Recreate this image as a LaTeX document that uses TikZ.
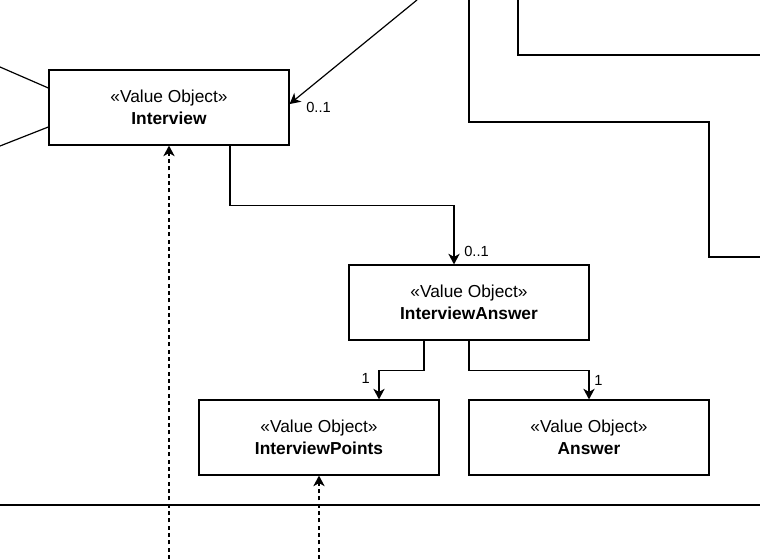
\documentclass[tikz,border=0pt]{standalone}
\usepackage{fontspec}
\setmainfont{Liberation Sans}
\usetikzlibrary{arrows.meta}

\tikzset{vo/.style={draw,line width=0.9pt,minimum width=180pt,minimum height=56.25pt,align=center,inner sep=0pt,font=\fontsize{13}{16.5}\selectfont},
assoc/.style={line width=0.9pt,-{Stealth[length=8pt,width=8.5pt,inset=2.4pt]}},
dep/.style={assoc,dash pattern=on 3pt off 2.5pt},
plain/.style={line width=0.9pt},
mult/.style={font=\fontsize{11}{13}\selectfont,inner sep=0pt}}

\begin{document}
\begin{tikzpicture}[x=0.75pt,y=-0.75pt]
\useasboundingbox (0,0) rectangle (760,559);

%% value objects
\node [vo] (interview) at (169,107.5) {«Value Object»\\\textbf{Interview}};
\node [vo] (ianswer) at (469,302.5) {«Value Object»\\\textbf{InterviewAnswer}};
\node [vo] (ipoints) at (319,437.5) {«Value Object»\\\textbf{InterviewPoints}};
\node [vo] (answer) at (589,437.5) {«Value Object»\\\textbf{Answer}};

%% free ends of connectors
\coordinate (inA) at (0,67);
\coordinate (inB) at (0,146);
\coordinate (inC) at (417,0);
\coordinate (topA) at (518,0);
\coordinate (topA2) at (760,55);
\coordinate (topB) at (469,0);
\coordinate (topB1) at (709,122);
\coordinate (topB2) at (760,257);
\coordinate (sepL) at (0,505);
\coordinate (sepR) at (760,505);
\coordinate (depA) at (169,559);
\coordinate (depB) at (319,559);

%% lines into Interview
\draw [plain] (inA) -- ([yshift=14.6pt]interview.west);
\draw [plain] (inB) -- ([yshift=-14.6pt]interview.west);
\draw [assoc] (inC) -- ([yshift=2.6pt]interview.east);

%% lines on the right
\draw [plain] (topA) |- (topA2);
\draw [plain] (topB) |- (topB1) |- (topB2);

%% associations
\draw [assoc] ([xshift=45.75pt]interview.south) -- ++(0,60) -| ([xshift=-11.25pt]ianswer.north);
\draw [assoc] ([xshift=-33.75pt]ianswer.south) -- ++(0,30) -| ([xshift=45pt]ipoints.north);
\draw [assoc] (ianswer.south) -- ++(0,30) -| (answer.north);

%% multiplicities
\node [mult,anchor=west] (m1) at (306,107) {0..1};
\node [mult,anchor=west] (m2) at (464,251) {0..1};
\node [mult,anchor=east] (m3) at (370,378) {1};
\node [mult,anchor=west] (m4) at (594,380) {1};

%% separator
\draw [plain] (sepL) -- (sepR);

%% dependencies
\draw [dep] (depA) -- (interview.south);
\draw [dep] (depB) -- (ipoints.south);

\end{tikzpicture}
\end{document}
